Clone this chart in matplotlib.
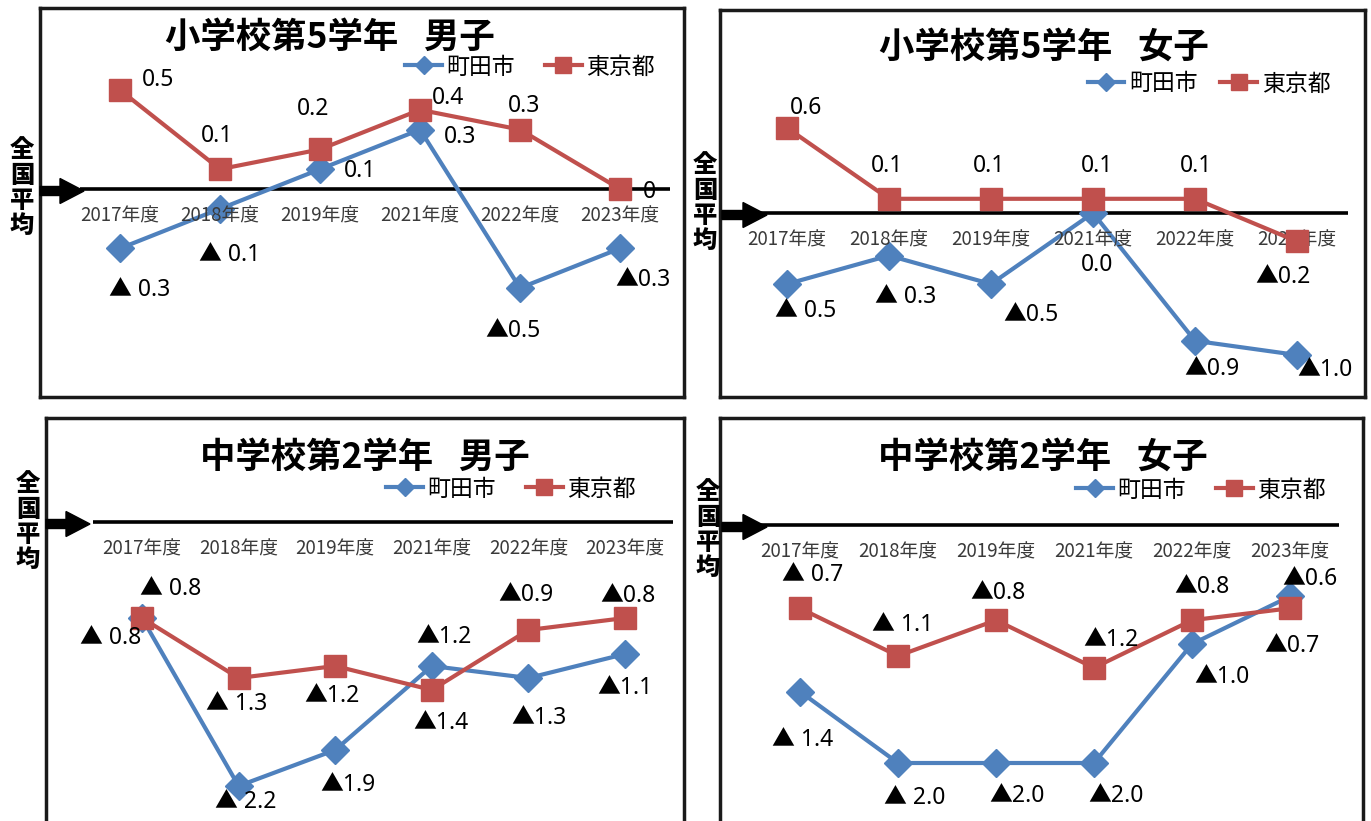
import matplotlib
matplotlib.use('Agg')
import matplotlib.pyplot as plt
from matplotlib.lines import Line2D
from matplotlib.patches import FancyArrow
from matplotlib.transforms import IdentityTransform

plt.rcParams['font.family'] = ['Noto Sans CJK JP', 'DejaVu Sans']

W, H = 1371, 821

years = ['2017年度', '2018年度', '2019年度', '2021年度', '2022年度', '2023年度']
series_names = ['町田市', '東京都']
titles = ['小学校第5学年\u2002 男子', '小学校第5学年\u2002 女子',
          '中学校第2学年\u2002 男子', '中学校第2学年\u2002 女子']

# differences from the national average
machida_e5_boys = [-0.3, -0.1, 0.1, 0.3, -0.5, -0.3]
tokyo_e5_boys = [0.5, 0.1, 0.2, 0.4, 0.3, 0.0]
machida_e5_girls = [-0.5, -0.3, -0.5, 0.0, -0.9, -1.0]
tokyo_e5_girls = [0.6, 0.1, 0.1, 0.1, 0.1, -0.2]
machida_j2_boys = [-0.8, -2.2, -1.9, -1.2, -1.3, -1.1]
tokyo_j2_boys = [-0.8, -1.3, -1.2, -1.4, -0.9, -0.8]
machida_j2_girls = [-1.4, -2.0, -2.0, -2.0, -1.0, -0.6]
tokyo_j2_girls = [-0.7, -1.1, -0.8, -1.2, -0.8, -0.7]

BLUE = '#4F81BD'
RED = '#C0504D'
LABEL_FONT = ['Noto Sans', 'Noto Sans CJK JP', 'DejaVu Sans']

# panel geometry in pixels: box, first category x, category step,
# zero-line y, pixels per point, zero-line span, legend centre, title centre
panels = [
    dict(box=(40, 8, 684, 397), x0=120, dx=100, y0=189, s=198,
         span=(80, 670), arrow=(40, 84), legend=(530, 67), title=(330, 37),
         label=(22, 188), zero=('0.0', '0'), colsp=1.3),
    dict(box=(720, 10, 1365, 397), x0=787, dx=102, y0=213, s=142,
         span=(750, 1348), arrow=(722, 767), legend=(1209, 84), title=(1044, 47),
         label=(705, 203), zero=('0.0', '0.0'), colsp=1.0),
    dict(box=(46, 418, 684, 840), x0=142, dx=96.6, y0=522, s=120,
         span=(93, 673), arrow=(46, 90), legend=(511, 489), title=(365, 457),
         label=(28, 522), zero=('0.0', '0.0'), colsp=1.3),
    dict(box=(720, 418, 1363, 840), x0=800, dx=98, y0=525, s=119,
         span=(752, 1339), arrow=(722, 767), legend=(1201, 490), title=(1043, 457),
         label=(708, 530), zero=('0.0', '0.0'), colsp=1.3),
]

values = [
    (machida_e5_boys, tokyo_e5_boys),
    (machida_e5_girls, tokyo_e5_girls),
    (machida_j2_boys, tokyo_j2_boys),
    (machida_j2_girls, tokyo_j2_girls),
]

# data label offsets from the marker, pixels (right, down)
offsets = [
    ([(20, 42), (10, 46), (40, 2), (40, 7), (-7, 43), (23, 32)],
     [(38, -10), (-3, -33), (-7, -40), (28, -12), (4, -24), (29, 3)]),
    ([(19, 27), (17, 41), (40, 31), (4, 52), (17, 28), (28, 15)],
     [(19, -20), (-2, -33), (-2, -33), (4, -33), (1, -33), (-14, 36)]),
    ([(-31, 20), (7, 16), (13, 35), (12, -29), (11, 40), (0, 34)],
     [(29, -29), (-2, 26), (-3, 30), (9, 33), (-2, -35), (3, -22)]),
    ([(3, 48), (17, 35), (21, 33), (22, 33), (30, 33), (20, -17)],
     [(13, -33), (5, -31), (2, -27), (17, -28), (10, -33), (2, 38)]),
]


def fmt(v, i, zero):
    if v < 0:
        return '▲' + (' ' if i < 2 else '') + f'{-v:.1f}'
    if v == 0:
        return zero
    return f'{v:.1f}'


fig = plt.figure(figsize=(W / 100, H / 100), dpi=100)

for p, title, (machida, tokyo), (off_m, off_t) in zip(panels, titles, values, offsets):
    left, top, right, bottom = p['box']
    ax = fig.add_axes([left / W, 1 - bottom / H, (right - left) / W, (bottom - top) / H])
    ax.set_xlim((left - p['x0']) / p['dx'], (right - p['x0']) / p['dx'])
    ax.set_ylim((p['y0'] - bottom) / p['s'], (p['y0'] - top) / p['s'])
    ax.set_xticks([])
    ax.set_yticks([])
    for sp in ax.spines.values():
        sp.set_linewidth(2.5)
        sp.set_color('#1a1a1a')

    xs = list(range(len(years)))
    x_a = (p['span'][0] - p['x0']) / p['dx']
    x_b = (p['span'][1] - p['x0']) / p['dx']
    ax.hlines(0, x_a, x_b, color='black', lw=2.6, zorder=1)

    ax.plot(xs, machida, color=BLUE, lw=3, marker='D', ms=14.5, zorder=3)
    ax.plot(xs, tokyo, color=RED, lw=3, marker='s', ms=16, zorder=4)

    for i, yr in enumerate(years):
        ax.annotate(yr, (i, 0), xytext=(0, -27), textcoords='offset pixels',
                    ha='center', va='center', fontsize=13.5, color='#3a3a3a')

    for vals, offs, zero in ((machida, off_m, p['zero'][0]), (tokyo, off_t, p['zero'][1])):
        for i, (v, (ox, oy)) in enumerate(zip(vals, offs)):
            ax.annotate(fmt(v, i, zero), (i, v), xytext=(ox, -oy),
                        textcoords='offset pixels', ha='center', va='center',
                        fontsize=16.5, family=LABEL_FONT, zorder=5)

    handles = [
        Line2D([], [], color=BLUE, lw=3, marker='D', ms=9),
        Line2D([], [], color=RED, lw=3, marker='s', ms=11),
    ]
    lx, ly = p['legend']
    fig.legend(handles, series_names, loc='center', ncol=2, frameon=False,
               bbox_to_anchor=(lx / W, 1 - ly / H), fontsize=16.5,
               handlelength=1.6, handletextpad=0.2, columnspacing=p['colsp'],
               borderpad=0.1)

    tx, ty = p['title']
    fig.text(tx / W, 1 - ty / H, title, ha='center', va='center',
             fontsize=25.5, fontweight='bold')

    vx, vy = p['label']
    fig.text(vx / W, 1 - vy / H, '\n'.join('全国平均'), ha='center', va='center',
             fontsize=17.5, fontweight='black', linespacing=1.05)

    # arrow pointing at the national-average line
    a0, a1 = p['arrow']
    fig.patches.append(FancyArrow(a0, H - p['y0'] - 2, a1 - a0, 0, width=9,
                                  head_width=25, head_length=24,
                                  length_includes_head=True, color='black',
                                  transform=IdentityTransform(), figure=fig))

fig.savefig('out.png', dpi=100)
